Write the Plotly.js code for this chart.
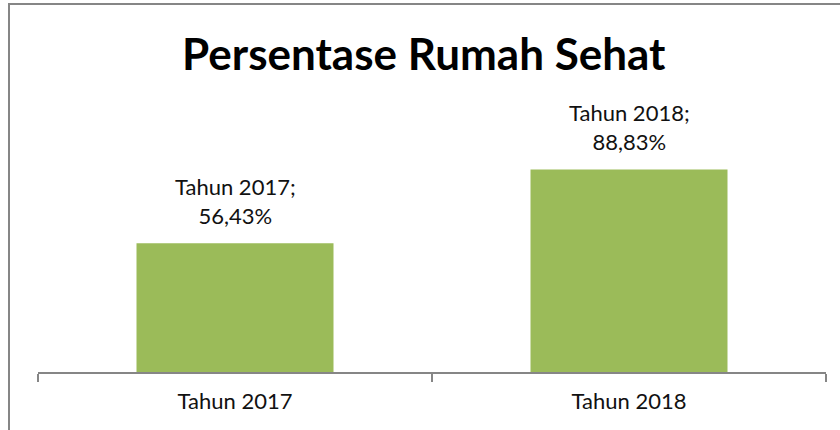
<!DOCTYPE html>
<html>
<head>
<meta charset="utf-8">
<script src="https://cdn.plot.ly/plotly-3.0.1.min.js"></script>
<style>html,body{margin:0;padding:0;background:#fff;}#chart{width:840px;height:430px;}</style>
</head>
<body>
<div id="chart"></div>
<script>
const categories = ["Tahun 2017", "Tahun 2018"];
const values = [56.43, 88.83];
const chartTitle = "Persentase Rumah Sehat";

const labels = categories.map((c, i) => c + ";<br>" + values[i].toFixed(2).replace(".", ",") + "%");
const FONT = "Lato, 'Noto Sans', sans-serif";

const trace = {
  type: "bar",
  x: categories,
  y: values,
  textposition: "none",
  marker: {color: "#9BBB59"},
  hoverinfo: "none"
};

const annotations = categories.map((c, i) => ({
  x: c, y: values[i], xref: "x", yref: "y",
  text: labels[i], showarrow: false,
  xanchor: "center", yanchor: "bottom", yshift: 12,
  font: {family: FONT, size: 22, color: "#111"}
}));

const layout = {
  width: 840, height: 430,
  margin: {l: 38, r: 14, t: 144, b: 58},
  paper_bgcolor: "#fff", plot_bgcolor: "#fff",
  showlegend: false,
  bargap: 0.5,
  font: {family: FONT, color: "#111"},
  title: {
    text: "<b>" + chartTitle + "</b>",
    font: {family: FONT, size: 44, color: "#000"},
    x: 0.5045, xanchor: "center", y: 0.874, yanchor: "middle"
  },
  xaxis: {
    type: "category",
    showline: true, linecolor: "#868686", linewidth: 2,
    ticks: "outside", tickson: "boundaries", ticklen: 8, tickwidth: 1.5, tickcolor: "#868686",
    tickfont: {family: FONT, size: 22, color: "#111"},
    ticklabelstandoff: 9,
    showgrid: false, zeroline: false, fixedrange: true
  },
  yaxis: {
    range: [0, 100], visible: false, showgrid: false, zeroline: false, fixedrange: true
  },
  annotations: annotations,
  shapes: [{
    type: "rect", xref: "paper", yref: "paper",
    x0: (9 - 38) / 788, x1: (845 - 38) / 788,
    y0: (372 - 440) / 228, y1: (372 - 4) / 228,
    line: {color: "#868686", width: 2}, fillcolor: "rgba(0,0,0,0)", layer: "above"
  }]
};

Plotly.newPlot("chart", [trace], layout, {staticPlot: true, displayModeBar: false});
</script>
</body>
</html>
